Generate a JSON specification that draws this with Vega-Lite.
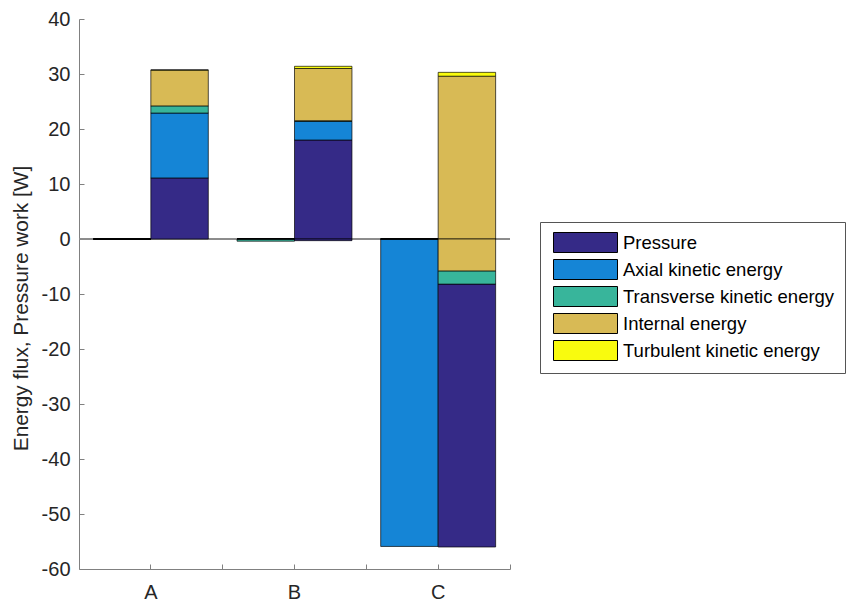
{
  "$schema": "https://vega.github.io/schema/vega-lite/v6.json",
  "width": 431,
  "height": 550,
  "autosize": {"type": "none"},
  "padding": {"left": 79, "top": 19, "right": 338, "bottom": 32},
  "background": "white",
  "config": {
    "view": {"stroke": null},
    "font": "Liberation Sans",
    "axis": {
      "labelFont": "Liberation Sans",
      "titleFont": "Liberation Sans",
      "labelFontSize": 20,
      "titleFontSize": 20.8,
      "labelColor": "#262626",
      "titleColor": "#262626",
      "domainColor": "#808080",
      "tickColor": "#808080",
      "grid": false,
      "titleFontWeight": "normal"
    }
  },
  "data": {
    "values": [
      {"group": "A", "side": "L", "series": "Pressure", "value": 0},
      {"group": "A", "side": "L", "series": "Axial kinetic energy", "value": 0},
      {"group": "A", "side": "L", "series": "Transverse kinetic energy", "value": 0},
      {"group": "A", "side": "L", "series": "Internal energy", "value": 0},
      {"group": "A", "side": "L", "series": "Turbulent kinetic energy", "value": 0},
      {"group": "B", "side": "L", "series": "Pressure", "value": 0},
      {"group": "B", "side": "L", "series": "Axial kinetic energy", "value": 0},
      {"group": "B", "side": "L", "series": "Transverse kinetic energy", "value": -0.4},
      {"group": "B", "side": "L", "series": "Internal energy", "value": 0},
      {"group": "B", "side": "L", "series": "Turbulent kinetic energy", "value": 0},
      {"group": "C", "side": "L", "series": "Pressure", "value": 0},
      {"group": "C", "side": "L", "series": "Axial kinetic energy", "value": -55.9},
      {"group": "C", "side": "L", "series": "Transverse kinetic energy", "value": 0},
      {"group": "C", "side": "L", "series": "Internal energy", "value": 0},
      {"group": "C", "side": "L", "series": "Turbulent kinetic energy", "value": 0},
      {"group": "A", "side": "R", "series": "Pressure", "value": 11.1},
      {"group": "A", "side": "R", "series": "Axial kinetic energy", "value": 11.8},
      {"group": "A", "side": "R", "series": "Transverse kinetic energy", "value": 1.3},
      {"group": "A", "side": "R", "series": "Internal energy", "value": 6.5},
      {"group": "A", "side": "R", "series": "Turbulent kinetic energy", "value": 0.05},
      {"group": "B", "side": "R", "series": "Pressure", "value": 18.0},
      {"group": "B", "side": "R", "series": "Pressure", "value": -0.3},
      {"group": "B", "side": "R", "series": "Axial kinetic energy", "value": 3.4},
      {"group": "B", "side": "R", "series": "Transverse kinetic energy", "value": 0.1},
      {"group": "B", "side": "R", "series": "Internal energy", "value": 9.5},
      {"group": "B", "side": "R", "series": "Turbulent kinetic energy", "value": 0.4},
      {"group": "C", "side": "R", "series": "Pressure", "value": -47.8},
      {"group": "C", "side": "R", "series": "Axial kinetic energy", "value": 0},
      {"group": "C", "side": "R", "series": "Transverse kinetic energy", "value": -2.4},
      {"group": "C", "side": "R", "series": "Internal energy", "value": 29.6},
      {"group": "C", "side": "R", "series": "Internal energy", "value": -5.8},
      {"group": "C", "side": "R", "series": "Turbulent kinetic energy", "value": 0.7}
    ]
  },
  "transform": [
    {"calculate": "(datum.value < 0 ? -1 : 1) * indexof(['Pressure','Axial kinetic energy','Transverse kinetic energy','Internal energy','Turbulent kinetic energy'], datum.series)", "as": "ord"}
  ],
  "resolve": {"scale": {"x": "shared"}, "axis": {"x": "independent"}},
  "layer": [
    {
      "mark": {"type": "rule", "color": "#8c8c8c", "strokeWidth": 1},
      "encoding": {"y": {"datum": 0, "type": "quantitative"}}
    },
    {
      "mark": {"type": "bar", "stroke": "#000000", "strokeWidth": 0.8, "strokeOpacity": 0.85},
      "encoding": {
        "x": {
          "field": "group", "type": "nominal",
          "scale": {"paddingInner": 0.2, "paddingOuter": 0.1},
          "axis": {"orient": "bottom", "title": null, "labelAngle": 0, "tickSize": -5, "labelPadding": 18, "domainColor": "#808080"}
        },
        "xOffset": {
          "field": "side", "type": "nominal",
          "scale": {"paddingInner": 0, "paddingOuter": 0}
        },
        "y": {
          "field": "value", "type": "quantitative", "stack": "zero",
          "scale": {"domain": [-60, 40], "nice": false, "zero": false},
          "axis": {
            "title": "Energy flux, Pressure work [W]",
            "values": [-60, -50, -40, -30, -20, -10, 0, 10, 20, 30, 40],
            "tickSize": -5,
            "labelPadding": 14,
            "labelExpr": "'' + datum.value",
            "titleX": -52,
            "titleY": 289,
            "titleBaseline": "alphabetic"
          }
        },
        "color": {
          "field": "series", "type": "nominal",
          "scale": {
            "domain": ["Pressure", "Axial kinetic energy", "Transverse kinetic energy", "Internal energy", "Turbulent kinetic energy"],
            "range": ["#352a87", "#1585d6", "#38b59b", "#d8ba55", "#f9fb0e"]
          },
          "legend": {
            "orient": "none",
            "legendX": 461,
            "legendY": 203,
            "title": null,
            "symbolType": "M-0.7,-1H5.7V1H-0.7Z",
            "symbolSize": 400,
            "symbolStrokeColor": "#000000",
            "symbolStrokeWidth": 1,
            "symbolOpacity": 1,
            "labelFont": "Liberation Sans",
            "labelFontSize": 18.5,
            "labelColor": "#000000",
            "labelOffset": 52,
            "labelLimit": 400,
            "rowPadding": 2,
            "padding": 10,
            "strokeColor": "#555555",
            "fillColor": "#ffffff"
          }
        },
        "order": {"field": "ord", "type": "quantitative"}
      }
    },
    {
      "transform": [{"filter": "false"}],
      "mark": "bar",
      "encoding": {
        "x": {
          "field": "group", "type": "nominal",
          "axis": {"orient": "bottom", "title": null, "labels": false, "domain": false, "tickSize": -5, "bandPosition": 1.125}
        }
      }
    }
  ]
}
